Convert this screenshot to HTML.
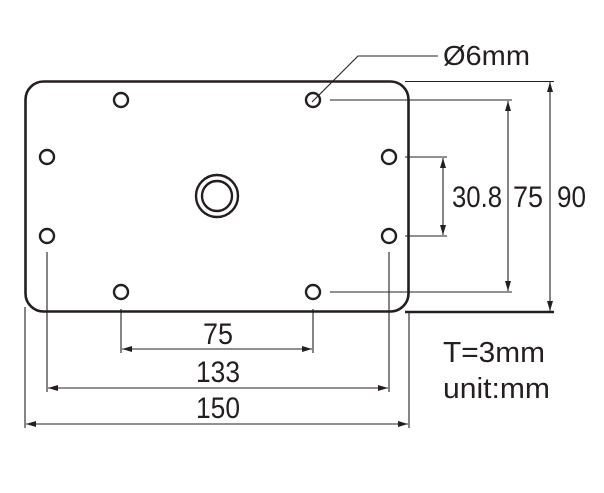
<!DOCTYPE html>
<html><head><style>
html,body{margin:0;padding:0;background:#fff;}
svg{display:block;}
text{font-family:"Liberation Sans",sans-serif;fill:#231f20;}
</style></head><body>
<svg width="604" height="493" viewBox="0 0 604 493" xmlns="http://www.w3.org/2000/svg">
<defs>
<marker id="a" viewBox="0 0 10 6" refX="10" refY="3" markerWidth="10" markerHeight="6" orient="auto-start-reverse" markerUnits="userSpaceOnUse">
<path d="M0,0 L10,3 L0,6 Z" fill="#231f20"/></marker>
</defs>
<g fill="none" stroke="#231f20">
<rect x="25.5" y="81.5" width="383" height="230" rx="18" stroke-width="2.6"/>
<g stroke-width="2.4">
<circle cx="121" cy="100" r="7"/><circle cx="313" cy="100" r="7"/>
<circle cx="47" cy="157" r="7"/><circle cx="389" cy="157" r="7"/>
<circle cx="47" cy="236" r="7"/><circle cx="389" cy="236" r="7"/>
<circle cx="121" cy="292" r="7"/><circle cx="313" cy="292" r="7"/>
<circle cx="217" cy="196" r="21"/><circle cx="217" cy="196" r="15"/>
</g>
<g stroke-width="1.1">
<polyline points="312,102 358,56 438,56"/>
<line x1="405" y1="81.5" x2="554" y2="81.5"/>
<line x1="405" y1="312" x2="554" y2="312" stroke-width="2.4"/>
<line x1="550" y1="82" x2="550" y2="311" marker-start="url(#a)" marker-end="url(#a)"/>
<line x1="330" y1="100" x2="512" y2="100"/>
<line x1="330" y1="292" x2="512" y2="292"/>
<line x1="508" y1="101" x2="508" y2="291" marker-start="url(#a)" marker-end="url(#a)"/>
<line x1="405" y1="157" x2="447" y2="157"/>
<line x1="405" y1="236" x2="447" y2="236"/>
<line x1="443" y1="158" x2="443" y2="235" marker-start="url(#a)" marker-end="url(#a)"/>
<line x1="121" y1="309" x2="121" y2="353"/>
<line x1="313" y1="309" x2="313" y2="353"/>
<line x1="122" y1="349" x2="312" y2="349" marker-start="url(#a)" marker-end="url(#a)"/>
<line x1="47" y1="252" x2="47" y2="392"/>
<line x1="389" y1="252" x2="389" y2="392"/>
<line x1="48" y1="388" x2="388" y2="388" marker-start="url(#a)" marker-end="url(#a)"/>
<line x1="25" y1="307" x2="25" y2="428"/>
<line x1="409" y1="312" x2="409" y2="428"/>
<line x1="26" y1="424" x2="408" y2="424" marker-start="url(#a)" marker-end="url(#a)"/>
</g>
</g>
<g lengthAdjust="spacingAndGlyphs">
<text x="443" y="65" font-size="28" textLength="87" lengthAdjust="spacingAndGlyphs">Ø6mm</text>
<text x="452" y="207" font-size="30" textLength="50" lengthAdjust="spacingAndGlyphs">30.8</text>
<text x="513" y="207" font-size="30" textLength="30" lengthAdjust="spacingAndGlyphs">75</text>
<text x="557" y="207" font-size="30" textLength="29" lengthAdjust="spacingAndGlyphs">90</text>
<text x="203" y="344" font-size="30" textLength="30" lengthAdjust="spacingAndGlyphs">75</text>
<text x="196" y="382" font-size="30" textLength="44" lengthAdjust="spacingAndGlyphs">133</text>
<text x="196" y="418" font-size="30" textLength="44" lengthAdjust="spacingAndGlyphs">150</text>
<text x="443" y="362" font-size="29" textLength="102" lengthAdjust="spacingAndGlyphs">T=3mm</text>
<text x="443" y="398" font-size="29" textLength="107" lengthAdjust="spacingAndGlyphs">unit:mm</text>
</g>
</svg>
</body></html>
